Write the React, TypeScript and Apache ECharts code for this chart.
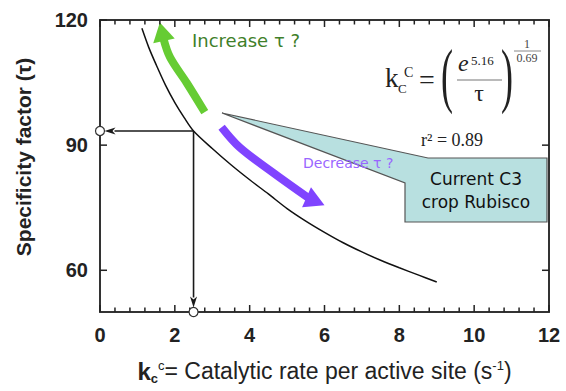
import React, { useEffect, useRef } from "react";
import * as echarts from "echarts";

// ---- data ----
const xMajorTicks = [0, 2, 4, 6, 8, 10, 12];
const xMinorPerMajor = 5;
const yTickValues = [60, 90, 120];
const yRightTicks = [60, 90];
const curveX = [1.12, 1.3, 1.5, 1.75, 2.0, 2.25, 2.5, 3.0, 3.5, 4.0, 4.5, 5.0, 5.5, 6.0, 6.5, 7.0, 7.5, 8.0, 8.5, 9.0];
const curveY = [118, 113.5, 109.3, 104.4, 100.2, 96.6, 93.4, 89.2, 85.3, 81.7, 78.3, 74.8, 71.8, 69.1, 66.6, 64.4, 62.4, 60.6, 58.9, 57.2];
const readPoint = [2.5, 93.4];
const greenArrow = [[2.8, 97.9], [2.32, 104.9], [1.87, 111.1], [1.71, 115.0], [1.6, 119.4]];
const purpleArrow = [[3.25, 94.3], [3.73, 89.5], [4.61, 83.5], [5.52, 77.5], [6.0, 75.6]];

const X_MIN = 0, X_MAX = 12, Y_MIN = 50, Y_MAX = 120;

function thickArrow(points: number[][], color: string, width: number, headW: number) {
  return (params: any, api: any) => {
    if (params.dataIndex !== 0) return null;
    const px = points.map((p) => api.coord(p));
    const tip = px[px.length - 1];
    const base = px[px.length - 2];
    const dx = tip[0] - base[0], dy = tip[1] - base[1];
    const len = Math.hypot(dx, dy);
    const ux = dx / len, uy = dy / len;
    const nx = -uy, ny = ux;
    const shaft = px.slice(0, px.length - 1);
    shaft[shaft.length - 1] = [base[0] + ux * 3, base[1] + uy * 3];
    return {
      type: "group",
      children: [
        { type: "polyline", shape: { points: shaft, smooth: 0.35 }, style: { stroke: color, lineWidth: width, fill: null } },
        {
          type: "polygon",
          shape: { points: [[base[0] + nx * headW / 2, base[1] + ny * headW / 2], tip, [base[0] - nx * headW / 2, base[1] - ny * headW / 2]] },
          style: { fill: color },
        },
      ],
    };
  };
}

function guideRender(params: any, api: any) {
  if (params.dataIndex !== 0) return null;
  const p = api.coord(readPoint);
  const left = api.coord([X_MIN, readPoint[1]]);
  const bottom = api.coord([readPoint[0], Y_MIN]);
  const r = 4.5;
  const hl = 11, hw = 7;
  const col = "#1a1a1a";
  const lTip = [left[0] + r, left[1]];
  const bTip = [bottom[0], bottom[1] - r];
  return {
    type: "group",
    children: [
      { type: "line", shape: { x1: p[0], y1: p[1], x2: lTip[0] + hl - 1, y2: p[1] }, style: { stroke: col, lineWidth: 1.6 } },
      { type: "polygon", shape: { points: [lTip, [lTip[0] + hl, lTip[1] - hw / 2], [lTip[0] + hl - 3, lTip[1]], [lTip[0] + hl, lTip[1] + hw / 2]] }, style: { fill: col } },
      { type: "line", shape: { x1: p[0], y1: p[1], x2: p[0], y2: bTip[1] - hl + 1 }, style: { stroke: col, lineWidth: 1.6 } },
      { type: "polygon", shape: { points: [bTip, [bTip[0] - hw / 2, bTip[1] - hl], [bTip[0], bTip[1] - hl + 3], [bTip[0] + hw / 2, bTip[1] - hl]] }, style: { fill: col } },
      { type: "circle", shape: { cx: left[0], cy: left[1], r }, style: { fill: "#fff", stroke: "#333", lineWidth: 1.2 } },
      { type: "circle", shape: { cx: bottom[0], cy: bottom[1], r }, style: { fill: "#fff", stroke: "#333", lineWidth: 1.2 } },
    ],
  };
}

// inward-pointing frame ticks, placed through the axis scales
function ticksRender(params: any, api: any) {
  if (params.dataIndex !== 0) return null;
  const pts: number[][] = [];
  const major = 7, minor = 4.5;
  const seg = (a: number[], b: number[]) => { pts.push(a, b); };
  for (let i = 0; i < xMajorTicks.length; i++) {
    const v = xMajorTicks[i];
    const b = api.coord([v, Y_MIN]);
    const t = api.coord([v, Y_MAX]);
    seg([b[0], b[1]], [b[0], b[1] - major]);
    seg([t[0], t[1]], [t[0], t[1] + major]);
    if (i < xMajorTicks.length - 1) {
      const step = (xMajorTicks[i + 1] - v) / xMinorPerMajor;
      for (let k = 1; k < xMinorPerMajor; k++) {
        const mb = api.coord([v + k * step, Y_MIN]);
        const mt = api.coord([v + k * step, Y_MAX]);
        seg([mb[0], mb[1]], [mb[0], mb[1] - minor]);
        seg([mt[0], mt[1]], [mt[0], mt[1] + minor]);
      }
    }
  }
  yTickValues.forEach((v) => {
    const l = api.coord([X_MIN, v]);
    seg([l[0], l[1]], [l[0] + major, l[1]]);
  });
  yRightTicks.forEach((v) => {
    const r = api.coord([X_MAX, v]);
    seg([r[0], r[1]], [r[0] - major, r[1]]);
  });
  const children: any[] = [];
  for (let i = 0; i < pts.length; i += 2) {
    children.push({
      type: "line",
      shape: { x1: pts[i][0], y1: pts[i][1], x2: pts[i + 1][0], y2: pts[i + 1][1] },
      style: { stroke: "#222", lineWidth: 1.5 },
    });
  }
  return { type: "group", children };
}

const SERIF = "'Liberation Serif', 'Times New Roman', serif";
const SANS = "'Liberation Sans', Arial, sans-serif";
const CASUAL = "'DejaVu Sans', sans-serif";

function ftext(text: string, x: number, y: number, size: number, extra: any = {}, el: any = {}) {
  return {
    type: "text",
    x,
    y,
    z: 100,
    ...el,
    style: {
      text,
      fontSize: size,
      fontFamily: SERIF,
      fill: "#222",
      align: "left",
      verticalAlign: "middle",
      ...extra,
    },
  };
}

export default function App() {
  const ref = useRef<HTMLDivElement>(null);
  useEffect(() => {
    if (!ref.current) return;
    const chart = echarts.init(ref.current, null, { renderer: "svg" });
    const axisLine = () => ({ show: true, onZero: false, lineStyle: { color: "#333", width: 2 } });
    const option: any = {
      animation: false,
      backgroundColor: "#fff",
      grid: { left: 100, right: 17, top: 20, bottom: 79, containLabel: false },
      xAxis: [
        {
          type: "value",
          position: "bottom",
          min: X_MIN,
          max: X_MAX,
          interval: 2,
          axisLine: axisLine(),
          axisTick: { show: false },
          splitLine: { show: false },
          axisLabel: {
            show: true,
            fontSize: 20,
            fontWeight: "bold",
            fontFamily: SANS,
            color: "#222",
            margin: 13,
          },
          name: "{kb|k}{sub|c}{sup|c}{n|= Catalytic rate per active site (s}{sup|-1}{n|)}",
          nameLocation: "middle",
          nameGap: 45,
          nameTextStyle: {
            fontFamily: SANS,
            color: "#222",
            fontSize: 23,
            lineHeight: 28,
            rich: {
              kb: { fontSize: 24, fontWeight: "bold", fontFamily: SANS, color: "#222", lineHeight: 28, verticalAlign: "middle" },
              sub: { fontSize: 13, fontWeight: "bold", fontFamily: SANS, color: "#222", lineHeight: 13, verticalAlign: "bottom" },
              sup: { fontSize: 13, fontFamily: SANS, color: "#222", lineHeight: 13, verticalAlign: "top", padding: [2, 0, 0, 0] },
              n: { fontSize: 23, fontFamily: SANS, color: "#222", lineHeight: 28, verticalAlign: "middle" },
            },
          },
        },
        {
          type: "value",
          position: "top",
          min: X_MIN,
          max: X_MAX,
          interval: 2,
          axisLine: axisLine(),
          axisTick: { show: false },
          splitLine: { show: false },
          axisLabel: { show: false },
        },
      ],
      yAxis: [
        {
          type: "value",
          position: "left",
          min: Y_MIN,
          max: Y_MAX,
          axisLine: axisLine(),
          axisTick: { show: false },
          splitLine: { show: false },
          axisLabel: {
            show: true,
            customValues: yTickValues,
            fontSize: 20,
            fontWeight: "bold",
            fontFamily: SANS,
            color: "#222",
            margin: 12,
          },
          name: "Specificity factor (τ)",
          nameLocation: "middle",
          nameGap: 66,
          nameTextStyle: { fontFamily: SANS, fontWeight: "bold", fontSize: 21, color: "#222", padding: [0, 0, 0, 18] },
        },
        {
          type: "value",
          position: "right",
          min: Y_MIN,
          max: Y_MAX,
          axisLine: axisLine(),
          axisTick: { show: false },
          splitLine: { show: false },
          axisLabel: { show: false },
        },
      ],
      series: [
        {
          type: "line",
          data: curveX.map((x, i) => [x, curveY[i]]),
          smooth: 0.3,
          symbol: "none",
          lineStyle: { color: "#111", width: 1.5 },
          z: 3,
        },
        { type: "custom", data: [readPoint], renderItem: ticksRender, clip: false, silent: true, z: 6 },
        { type: "custom", data: greenArrow, renderItem: thickArrow(greenArrow, "#66cc33", 8, 22), clip: false, z: 4 },
        { type: "custom", data: purpleArrow, renderItem: thickArrow(purpleArrow, "#8044ff", 8, 22), clip: false, z: 4 },
        { type: "custom", data: [readPoint], renderItem: guideRender, clip: false, z: 7 },
      ],
      graphic: [
        {
          type: "polygon",
          z: 50,
          shape: { points: [[222, 113], [428, 158], [547, 158], [547, 222], [405, 222], [405, 183]] },
          style: { fill: "#b8e0e0", stroke: "#555", lineWidth: 1.2 },
        },
        ftext("Current C3\ncrop Rubisco", 476, 190, 17, { fontFamily: CASUAL, align: "center", lineHeight: 23, fill: "#111" }),
        ftext("Increase τ ?", 192, 40, 18, { fontFamily: CASUAL, fill: "#3f7f2a" }),
        ftext("Decrease τ ?", 303, 163, 14, { fontFamily: CASUAL, fill: "#9966ff" }),
        ftext("k", 385, 77.5, 27),
        ftext("C", 398, 88.5, 13),
        ftext("C", 404, 72, 14),
        ftext("=", 419, 79, 28),
        ftext("(", 441, 74, 72, {}, { scaleX: 0.5 }),
        ftext("e", 458, 62.5, 24, { fontStyle: "italic" }),
        ftext("5.16", 471, 60, 13),
        { type: "line", z: 100, shape: { x1: 457, y1: 80, x2: 502, y2: 80 }, style: { stroke: "#777", lineWidth: 1.2 } },
        ftext("τ", 479, 92.5, 24, { align: "center" }),
        ftext(")", 501, 74, 72, {}, { scaleX: 0.5 }),
        ftext("1", 527, 44, 12, { align: "center", fill: "#444" }),
        { type: "line", z: 100, shape: { x1: 514, y1: 51, x2: 541, y2: 51 }, style: { stroke: "#888", lineWidth: 1 } },
        ftext("0.69", 527, 58, 12, { align: "center", fill: "#444" }),
        ftext("r² = 0.89", 421, 140, 18),
      ],
    };
    chart.setOption(option);
    return () => chart.dispose();
  }, []);
  return <div ref={ref} style={{ position: "fixed", left: 0, top: 0, width: 566, height: 391 }} />;
}
